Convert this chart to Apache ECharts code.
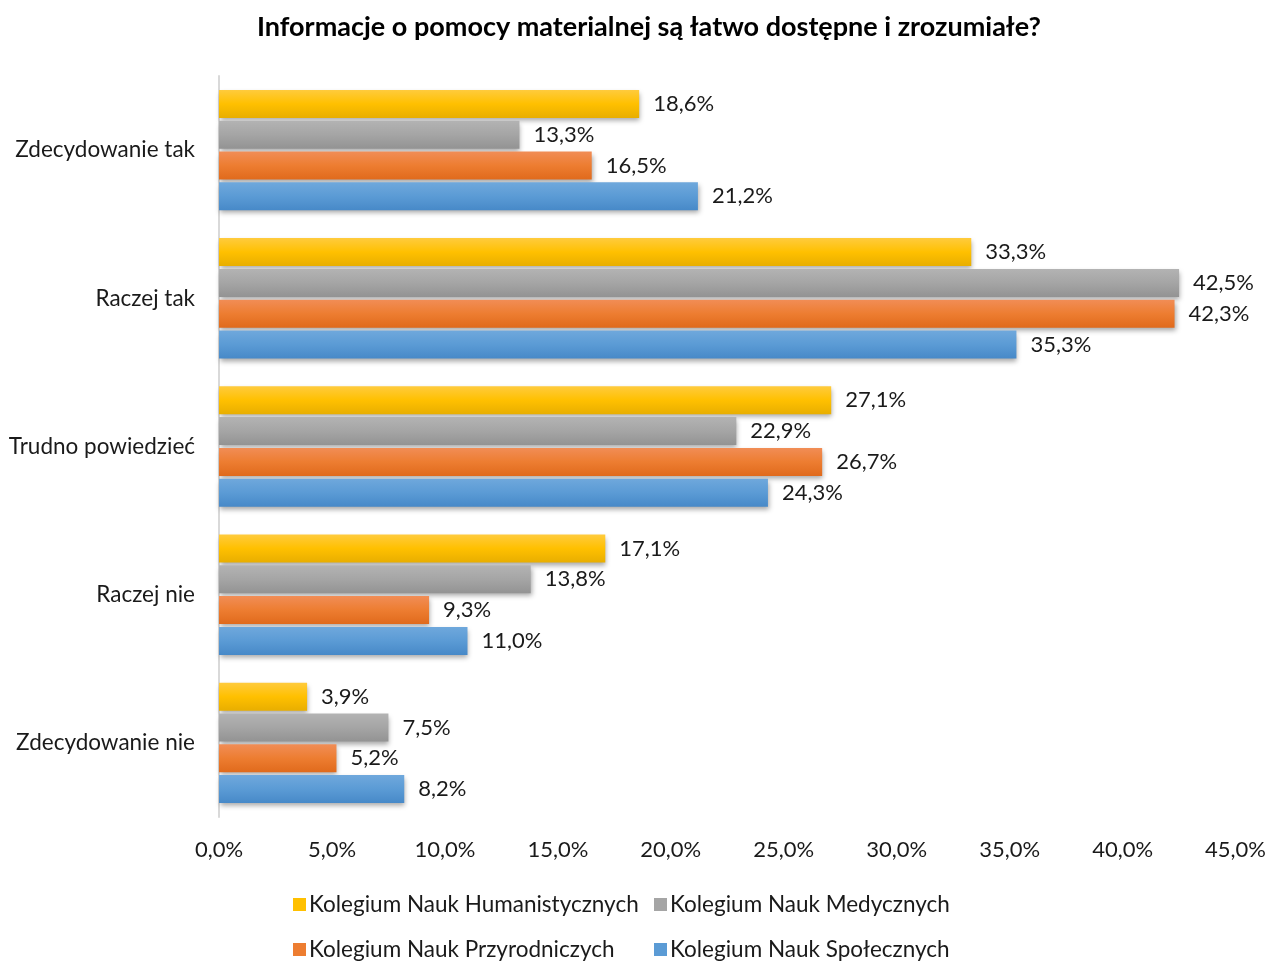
<!DOCTYPE html>
<html>
<head>
<meta charset="utf-8">
<script src="https://cdn.jsdelivr.net/npm/echarts@6/dist/echarts.min.js"></script>
<style>
  html, body { margin: 0; padding: 0; background: #fff; }
  #chart { width: 1269px; height: 961px; }
</style>
</head>
<body>
<div id="chart"></div>
<script>
// dane
const categories = ['Zdecydowanie tak', 'Raczej tak', 'Trudno powiedzieć', 'Raczej nie', 'Zdecydowanie nie']
const seriesNames = [
    'Kolegium Nauk Humanistycznych',
    'Kolegium Nauk Medycznych',
    'Kolegium Nauk Przyrodniczych',
    'Kolegium Nauk Społecznych'
]
const humanistyczne = [18.6, 33.3, 27.1, 17.1, 3.9]
const medyczne = [13.3, 42.5, 22.9, 13.8, 7.5]
const przyrodnicze = [16.5, 42.3, 26.7, 9.3, 5.2]
const spoleczne = [21.2, 35.3, 24.3, 11.0, 8.2]
const xTicks = [0, 5, 10, 15, 20, 25, 30, 35, 40, 45]

const font = 'Lato, "Open Sans", sans-serif'

// kolory z gradientem (jasniejsza gora)
function grad(top, mid, bottom) {
    return {
        type: 'linear', x: 0, y: 0, x2: 0, y2: 1,
        colorStops: [
            { offset: 0, color: top },
            { offset: 0.5, color: mid },
            { offset: 1, color: bottom }
        ]
    }
}
const colors = [
    grad('#ffcb3d', '#ffc000', '#e8ae00'),
    grad('#b3b3b3', '#a5a5a5', '#939393'),
    grad('#f18d56', '#ed7d31', '#e06a1c'),
    grad('#6fa8dc', '#5b9bd5', '#4789c8')
]
const flatColors = ['#ffc000', '#a5a5a5', '#ed7d31', '#5b9bd5']
const values = [humanistyczne, medyczne, przyrodnicze, spoleczne]

const fmt = v => v.toFixed(1).replace('.', ',') + '%'

const legendPos = [
    { left: 288, top: 888 },
    { left: 649, top: 888 },
    { left: 288, top: 933 },
    { left: 649, top: 933 }
]

const option = {
    animation: false,
    title: {
        text: 'Informacje o pomocy materialnej są łatwo dostępne i zrozumiałe?',
        left: 252,
        top: 9,
        textStyle: { fontFamily: font, fontSize: 27, fontWeight: 'bold', color: '#000' }
    },
    legend: legendPos.map((p, i) => ({
        left: p.left,
        top: p.top,
        data: [{ name: seriesNames[i], itemStyle: { color: flatColors[i] } }],
        itemWidth: 13,
        itemHeight: 13,
        itemGap: 6,
        icon: 'rect',
        textStyle: { fontFamily: font, fontSize: 22.5, color: '#1a1a1a', padding: [0, 0, 0, -2] }
    })),
    grid: {
        left: 219,
        right: 30,
        top: 76,
        bottom: 144
    },
    xAxis: {
        type: 'value',
        min: 0,
        max: 45,
        interval: 5,
        axisLine: { show: false },
        axisTick: { show: false },
        splitLine: { show: false },
        axisLabel: {
            margin: 22,
            fontFamily: font,
            fontSize: 22,
            color: '#1a1a1a',
            formatter: v => fmt(v)
        }
    },
    yAxis: {
        type: 'category',
        inverse: true,
        data: categories,
        axisTick: { show: false },
        axisLine: { lineStyle: { color: '#d9d9d9', width: 2 } },
        axisLabel: {
            margin: 24,
            fontFamily: font,
            fontSize: 22.5,
            color: '#1a1a1a'
        }
    },
    series: values.map((d, i) => ({
        name: seriesNames[i],
        type: 'bar',
        data: d,
        barWidth: 28,
        barGap: '10%',
        itemStyle: {
            color: colors[i],
            shadowColor: 'rgba(0,0,0,0.35)',
            shadowBlur: 5,
            shadowOffsetY: 3,
            shadowOffsetX: 1
        },
        label: {
            show: true,
            position: 'right',
            distance: 14,
            fontFamily: font,
            fontSize: 22,
            color: '#1a1a1a',
            formatter: p => fmt(p.value)
        }
    }))
}

const chart = echarts.init(document.getElementById('chart'))
chart.setOption(option)
window.addEventListener('resize', () => chart.resize())
</script>
</body>
</html>
